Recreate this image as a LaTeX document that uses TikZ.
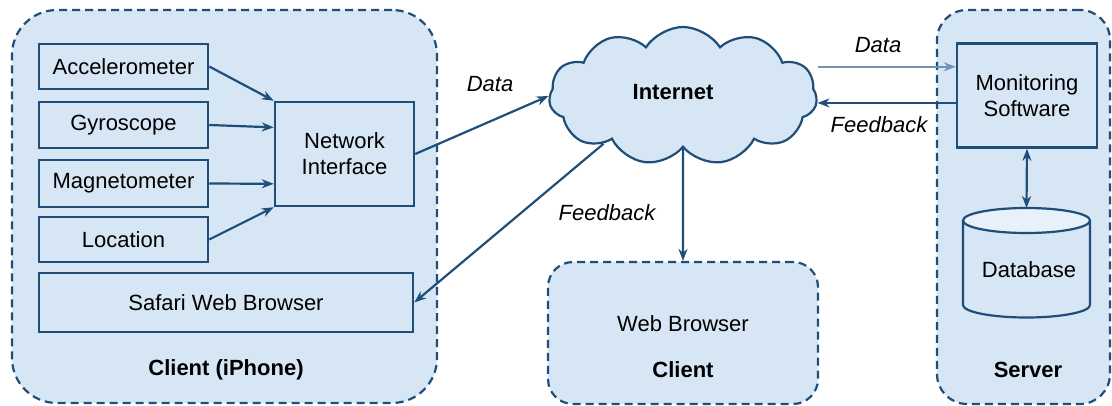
\documentclass[tikz,border=0pt]{standalone}
\usepackage{fontspec}
\setmainfont{Liberation Sans}
\usetikzlibrary{shapes.symbols,arrows.meta,calc}
\definecolor{edge}{HTML}{1F4E79}
\definecolor{fillb}{HTML}{D6E6F5}
\definecolor{topb}{HTML}{E8F0FA}
\definecolor{lightedge}{HTML}{6F93B8}
\begin{document}
\begin{tikzpicture}[x=1pt,y=-1pt,
  font=\fontsize{22}{26}\selectfont,
  container/.style={draw=edge, fill=fillb, dash pattern=on 8pt off 5pt, line width=2.2pt, inner sep=0pt},
  box/.style={draw=edge, fill=fillb, line width=2.5pt, inner sep=0pt, align=center},
  conn/.style={draw=edge, line width=2.2pt, -{Stealth[length=12pt,width=9pt]}},
  lab/.style={font=\fontsize{22}{26}\selectfont\itshape},
  ttl/.style={font=\fontsize{22}{26}\selectfont\bfseries}]
\useasboundingbox (0,0) rectangle (1112,406);
% containers
\node[container, rounded corners=45pt, minimum width=425pt, minimum height=393pt] (cli) at (224.5,206.5) {};
\node[container, rounded corners=25pt, minimum width=270pt, minimum height=142pt] (web) at (683,333) {};
\node[container, rounded corners=30pt, minimum width=173pt, minimum height=394pt] (srv) at (1023.5,207) {};
\node[ttl] (clilab) at (226,370) {Client (iPhone)};
\node (weblab) at (683,324) {Web Browser};
\node[ttl] (webcl) at (683,370) {Client};
\node[ttl] (srvlab) at (1028,370) {Server};
% client boxes
\node[box, minimum width=169pt, minimum height=45pt] (acc) at (123.5,66.5) {Accelerometer};
\node[box, minimum width=169pt, minimum height=46pt] (gyr) at (123.5,125) {Gyroscope};
\node[box, minimum width=169pt, minimum height=47pt] (mag) at (123.5,183.5) {Magnetometer};
\node[box, minimum width=169pt, minimum height=45pt] (loc) at (123.5,239.5) {Location};
\node[box, minimum width=139pt, minimum height=104pt] (ni) at (344.5,154) {Network\\Interface};
\node[box, minimum width=374pt, minimum height=59pt] (saf) at (226,302.5) {Safari Web Browser};
% cloud
\node[cloud, cloud puffs=11, cloud puff arc=115, aspect=2, draw=edge, fill=fillb, line width=2.2pt, minimum width=268pt, minimum height=138pt, inner sep=0pt] (net) at (683,96) {};
\node[ttl] (netlab) at (673,92) {Internet};
% server
\node[box, minimum width=140pt, minimum height=104pt] (mon) at (1027,95.5) {Monitoring\\Software};
\fill[fillb] (963,220.5) -- (963,305) arc[start angle=180,end angle=360,x radius=63.5pt,y radius=12.5pt] -- (1090,220.5) -- cycle;
\draw[edge, line width=2.2pt] (963,220.5) -- (963,305) arc[start angle=180,end angle=360,x radius=63.5pt,y radius=12.5pt] -- (1090,220.5);
\draw[edge, line width=2.2pt, fill=topb] (1026.5,220.5) ellipse [x radius=63.5pt, y radius=12.5pt];
\coordinate (dbtop) at (1026.5,208);
\node (db) at (1029,270) {Database};
% connectors
\draw[conn] (acc.east) -- (ni.north west);
\draw[conn] (gyr.east) -- ($(ni.north west)!0.25!(ni.south west)$);
\draw[conn] (mag.east) -- ($(ni.north west)!0.78!(ni.south west)$);
\draw[conn] (loc.east) -- (ni.south west);
\draw[conn] (ni.east) -- (net.west);
\draw[conn] (net.211) -- (saf.east);
\draw[conn] (net.south) -- (web.north);
\coordinate (m1) at ($(mon.north west)!0.23!(mon.south west)$);
\coordinate (m2) at ($(mon.north west)!0.57!(mon.south west)$);
\draw[conn, draw=lightedge, line width=1.6pt] (net.east |- m1) -- (m1);
\draw[conn] (m2) -- (net.east |- m2);
\draw[edge, line width=2.2pt, {Stealth[length=12pt,width=9pt]}-{Stealth[length=12pt,width=9pt]}] (mon.south) -- (dbtop);
% labels
\node[lab] (l1) at (490,84) {Data};
\node[lab] (l2) at (607,213) {Feedback};
\node[lab] (l3) at (878,45) {Data};
\node[lab] (l4) at (879,125) {Feedback};
\end{tikzpicture}
\end{document}
